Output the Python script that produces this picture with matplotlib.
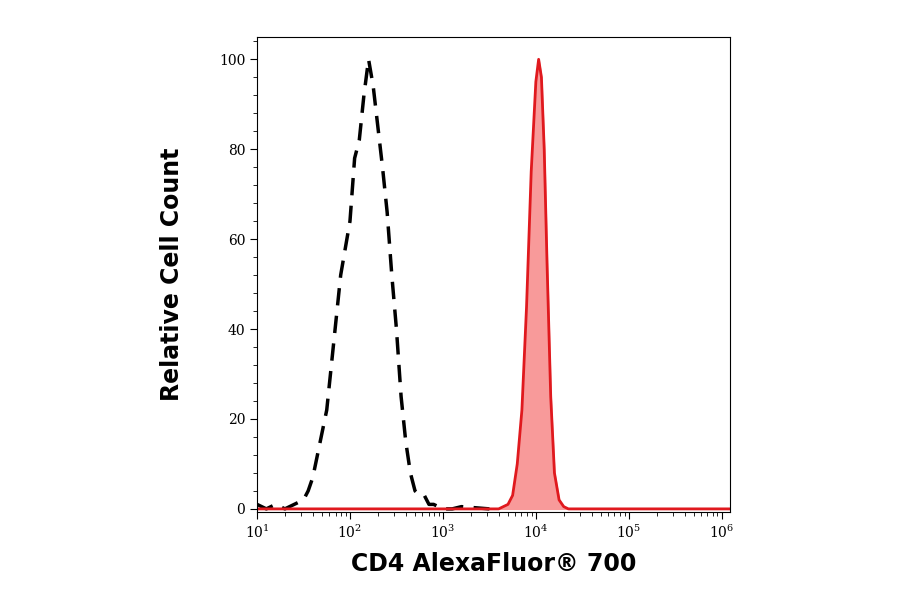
import numpy as np
import matplotlib.pyplot as plt
from matplotlib.ticker import LogLocator, NullFormatter, MultipleLocator

# isotype control (dashed black), log10 of fluorescence vs relative count
ctrl_x = [1.0, 1.1, 1.2, 1.3, 1.4, 1.5, 1.55, 1.6, 1.65, 1.7, 1.75, 1.8, 1.85, 1.9, 1.95,
          2.0, 2.05, 2.1, 2.15, 2.2, 2.25, 2.3, 2.35, 2.4, 2.45, 2.5, 2.55, 2.6, 2.65,
          2.7, 2.75, 2.8, 2.85, 2.9, 3.0, 3.1, 3.2, 3.5]
ctrl_y = [1, 0, 1, 0, 1, 2, 4, 7, 12, 17, 22, 32, 42, 52, 58,
          64, 78, 82, 92, 100, 94, 85, 76, 66, 52, 40, 25, 15, 8,
          4, 3, 3, 1, 1, 0, 0, 0.5, 0]

# CD4 stained sample (red filled)
cd4_x = [1.0, 3.6, 3.7, 3.75, 3.8, 3.85, 3.9, 3.95, 4.0, 4.03, 4.06, 4.09, 4.12, 4.16, 4.2, 4.25, 4.3, 4.35, 6.1]
cd4_y = [0, 0, 1, 3, 10, 22, 45, 75, 95, 100, 96, 80, 55, 25, 8, 2, 0.5, 0, 0]

fig = plt.figure(figsize=(9, 5.94), dpi=100)
ax = fig.add_axes([0.2856, 0.138, 0.5256, 0.8])

cx = 10 ** np.array(ctrl_x)
ax.plot(cx, ctrl_y, color='black', lw=2.5, dashes=(5, 3))
px = 10 ** np.array(cd4_x)
ax.fill_between(px, cd4_y, color='#f89a9a')
ax.plot(px, cd4_y, color='#e0191e', lw=2)

ax.set_xscale('log')
ax.set_xlim(10, 10 ** 6.09)
ax.set_ylim(-0.7, 105)
ax.xaxis.set_major_locator(LogLocator(base=10, numticks=10))
ax.xaxis.set_minor_locator(LogLocator(base=10, subs=np.arange(2, 10), numticks=100))
ax.xaxis.set_minor_formatter(NullFormatter())
ax.yaxis.set_major_locator(MultipleLocator(20))
ax.yaxis.set_minor_locator(MultipleLocator(4))
ax.tick_params(which='both', direction='out', labelsize=10)
ax.tick_params(which='major', length=5)
ax.tick_params(which='minor', length=3)
for lab in ax.get_xticklabels() + ax.get_yticklabels():
    lab.set_family('DejaVu Serif')

ax.set_xlabel('CD4 AlexaFluor® 700', fontsize=17, fontweight='bold', labelpad=8)
ax.set_ylabel('Relative Cell Count', fontsize=17, fontweight='bold', labelpad=25)

fig.savefig('out.png')
